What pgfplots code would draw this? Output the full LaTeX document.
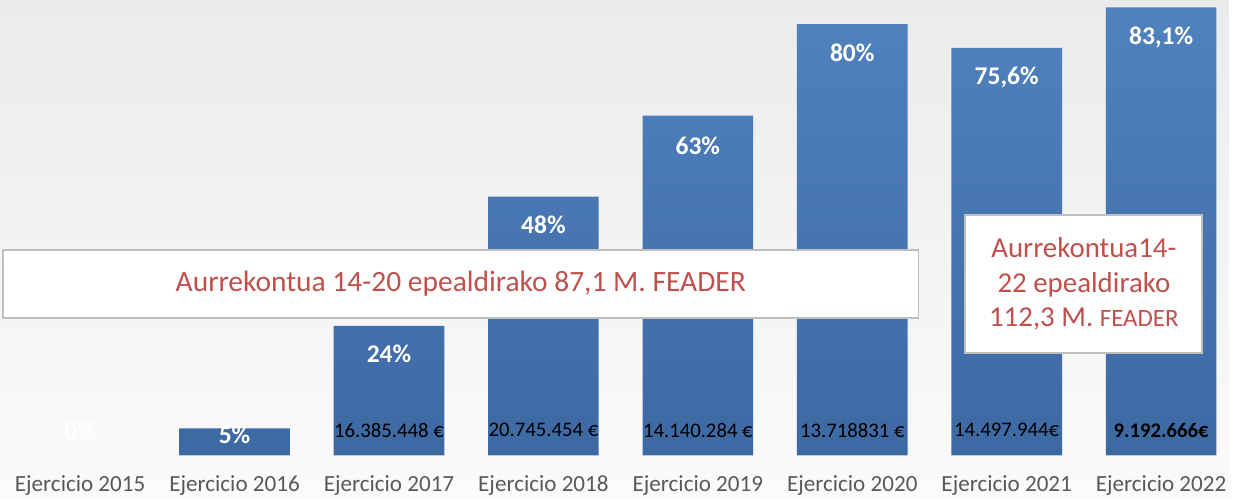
\documentclass[border=0pt]{standalone}
\usepackage{pgfplots}
\pgfplotsset{compat=1.18}
\usepackage{fontspec}
\setmainfont{Carlito}
\definecolor{bgtop}{HTML}{EBEBEB}
\definecolor{bgmid}{HTML}{D9D9D9}
\definecolor{bgbot}{HTML}{FBFBFB}
\definecolor{bartop}{HTML}{5082BE}
\definecolor{barbot}{HTML}{3D69A3}
\definecolor{redtxt}{HTML}{C0504D}
\definecolor{ticktxt}{HTML}{595959}
\definecolor{boxgray}{HTML}{BFBFBF}
\begin{document}
\begin{tikzpicture}
\begin{axis}[
  scale only axis, width=616.5pt, height=250pt,
  xmin=-0.519, xmax=7.435, ymin=-7.95, ymax=84.47,
  axis line style={draw=none}, tick style={draw=none},
  ytick=\empty, xtick={0,...,7},
  xticklabels={Ejercicio 2015,Ejercicio 2016,Ejercicio 2017,Ejercicio 2018,Ejercicio 2019,Ejercicio 2020,Ejercicio 2021,Ejercicio 2022},
  xticklabel style={anchor=center, yshift=6.5pt, font=\fontsize{11.6}{13}\selectfont, text=ticktxt},
  axis background/.style={top color=bgtop, middle color=bgmid, bottom color=bgbot},
  clip=false,
]
% bars (percentage executed)
\addplot[ybar, bar width=55.5pt, bar shift=0pt, draw=none, top color=bartop, bottom color=barbot,
  restrict y to domain=0.01:200]
  coordinates {(0,0) (1,5) (2,24) (3,48) (4,63) (5,80) (6,75.6) (7,83.1)};
% percentage labels
\addplot[draw=none, mark=none, nodes near coords, point meta=explicit symbolic,
  nodes near coords style={anchor=center, font=\bfseries\fontsize{12.8}{15}\selectfont, text=white}]
  coordinates {(0,4.6) [0\%] (1,3.7) [5\%] (2,18.9) [24\%] (3,42.7) [48\%] (4,57.5) [63\%]
               (5,74.7) [80\%] (6,70.1) [75,6\%] (7,77.6) [83,1\%]};
% euro amounts
\addplot[draw=none, mark=none, nodes near coords, point meta=explicit symbolic,
  nodes near coords style={anchor=center, font=\fontsize{10.4}{12}\selectfont, text=black}]
  coordinates {(2,4.62) [16.385.448 €] (3,4.62) [20.745.454 €] (4,4.62) [14.140.284 €]
               (5,4.62) [13.718831 €] (6,4.62) [14.497.944€] (7,4.62) [\textbf{9.192.666€}]};
% annotation boxes
\node[draw=boxgray, line width=1pt, fill=white, minimum width=459.5pt, minimum height=34pt,
  inner sep=0pt, text=redtxt, font=\fontsize{14.8}{17}\selectfont]
  at (rel axis cs:0.3751,0.43) {Aurrekontua 14-20 epealdirako 87,1 M. FEADER};
\node[draw=boxgray, line width=1pt, fill=white, minimum width=119pt, minimum height=69pt,
  inner sep=0pt, align=center, text=redtxt, font=\fontsize{14.5}{17.5}\selectfont]
  at (rel axis cs:0.8824,0.43) {Aurrekontua14-\\22 epealdirako\\112,3 M. {\fontsize{12.5}{17.5}\selectfont FEADER}};
\end{axis}
\end{tikzpicture}
\end{document}
